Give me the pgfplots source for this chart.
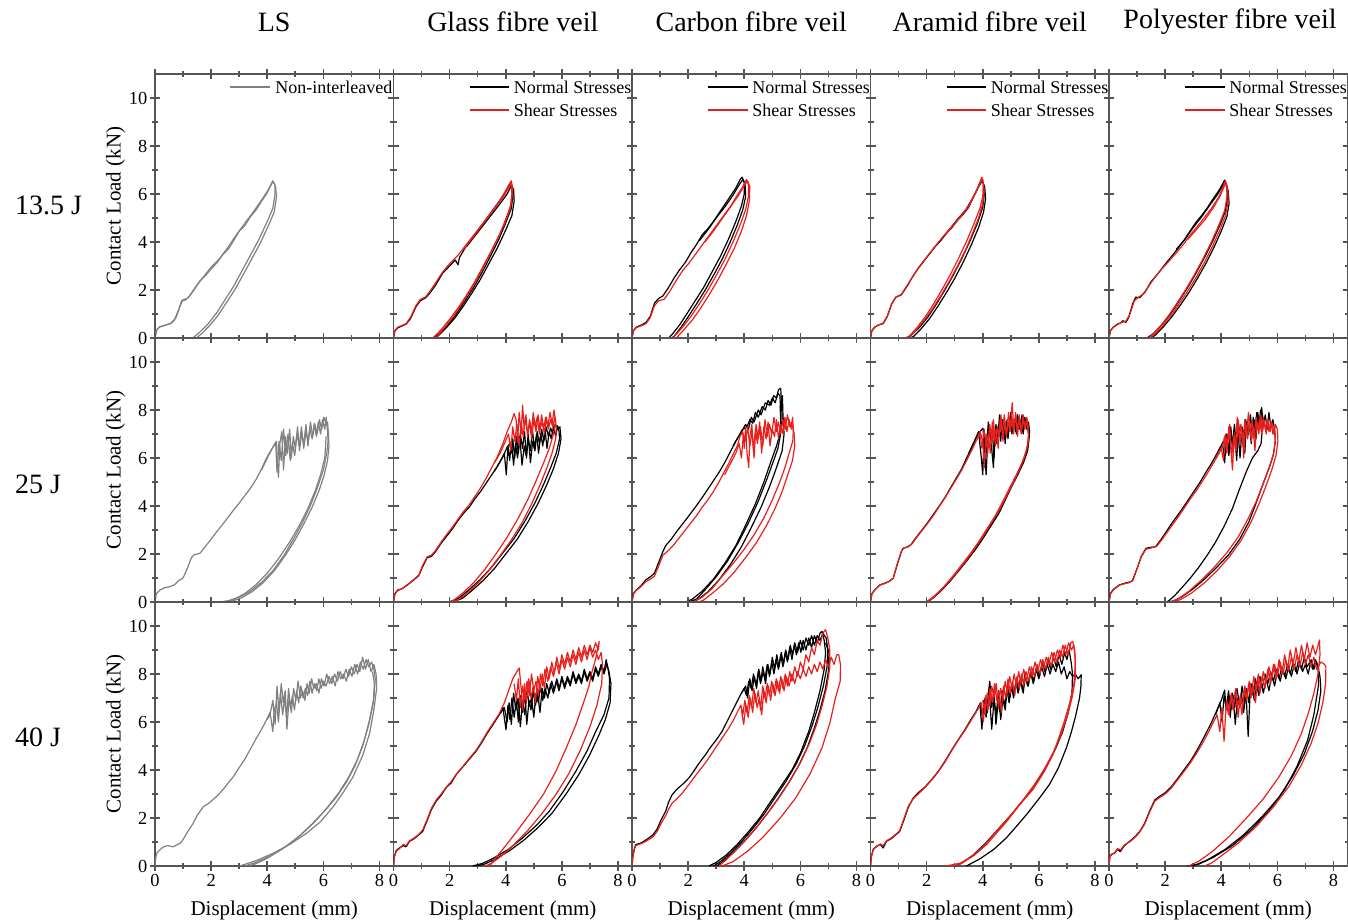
\documentclass[border=0pt]{standalone}
\usepackage{fontspec}
\setmainfont{Liberation Serif}
\usepackage{pgfplots}
\pgfplotsset{compat=1.18}
\definecolor{sred}{RGB}{232,32,28}
\definecolor{lsg}{RGB}{128,128,128}
\definecolor{axg}{RGB}{85,85,85}
\pgfplotsset{
  panel/.style={scale only axis, width=119.25pt, height=132pt, anchor=south west,
    xmin=0, xmax=8.5, ymin=0, ymax=11,
    xtick={0,2,4,6,8}, ytick={0,2,4,6,8,10},
    minor x tick num=1, minor y tick num=1,
    xticklabels={}, yticklabels={},
    tick align=center, major tick length=5pt, minor tick length=3pt,
    axis line style={axg, line width=0.8pt},
    every tick/.style={axg, line width=0.8pt},
    tick label style={font=\fontsize{9.2}{10}\selectfont, text=black},
    yticklabel style={xshift=2.2pt},
    xticklabel style={yshift=1.8pt},
    label style={font=\fontsize{10.5}{12}\selectfont},
  },
  lefty/.style={yticklabels={0,2,4,6,8,10}, ylabel={Contact Load (kN)},
    ylabel style={at={(axis description cs:-0.165,0.5)}, anchor=center}},
  botx/.style={xticklabels={0,2,4,6,8}, xlabel={Displacement (mm)},
    xlabel style={at={(axis description cs:0.5,-0.17)}, anchor=center}},
  N/.style={black, line width=0.6pt, forget plot, line join=round},
  S/.style={sred, line width=0.6pt, forget plot, line join=round},
  G/.style={lsg, line width=0.6pt, forget plot, line join=round},
}
\newcommand{\legtext}[2]{\node[anchor=west, inner sep=0pt, font=\fontsize{9}{10}\selectfont] at (rel axis cs:0.503,#1) {#2};}
\newcommand{\NSlegend}{%
\draw[black, line width=0.6pt] (rel axis cs:0.319,0.951) -- (rel axis cs:0.486,0.951);
\legtext{0.951}{Normal Stresses}
\draw[sred, line width=0.6pt] (rel axis cs:0.319,0.864) -- (rel axis cs:0.486,0.864);
\legtext{0.864}{Shear Stresses}}
\begin{document}
\begin{tikzpicture}
\path[use as bounding box] (0pt,0pt) rectangle (674pt,461.5pt);
% titles
\begin{scope}[every node/.style={font=\fontsize{14}{16}\selectfont}]
\node at (137.1pt,450.5pt) {LS};
\node at (256.4pt,450.5pt) {Glass fibre veil};
\node at (375.6pt,450.5pt) {Carbon fibre veil};
\node at (494.9pt,450.5pt) {Aramid fibre veil};
\node at (615pt,450.5pt) {Polyester fibre veil};
\node[anchor=west] at (4pt,359pt) {13.5 J};
\node[anchor=west] at (4pt,219.5pt) {25 J};
\node[anchor=west] at (4pt,93pt) {40 J};
\end{scope}

%================ ROW 1 (13.5 J) ================
\begin{axis}[panel, lefty, at={(77.5pt,292.5pt)}]
\addplot[G] coordinates {(0,0) (0.05,0.3) (0.15,0.45) (0.35,0.52) (0.55,0.6) (0.7,0.78) (0.85,1.2) (0.95,1.55) (1.08,1.58) (1.2,1.7) (1.4,2.05) (1.6,2.38) (1.8,2.6) (2.0,2.88) (2.2,3.12) (2.4,3.45) (2.6,3.68) (2.8,4.05) (3.0,4.45) (3.2,4.68) (3.4,5.05) (3.6,5.33) (3.8,5.7) (4.0,6.05) (4.1,6.3) (4.2,6.52) (4.27,6.4) (4.28,6.0) (4.2,5.4) (4.0,4.85) (3.7,4.1) (3.4,3.45) (3.1,2.8) (2.8,2.15) (2.5,1.6) (2.2,1.05) (1.9,0.6) (1.6,0.25) (1.35,0)};
\addplot[G] coordinates {(0,0) (0.06,0.33) (0.17,0.47) (0.4,0.55) (0.6,0.63) (0.75,0.85) (0.9,1.35) (1.0,1.6) (1.15,1.65) (1.3,1.85) (1.5,2.2) (1.75,2.58) (2.0,2.95) (2.3,3.3) (2.6,3.78) (2.9,4.3) (3.2,4.78) (3.5,5.25) (3.8,5.75) (4.05,6.2) (4.2,6.55) (4.3,6.3) (4.33,5.9) (4.25,5.25) (4.05,4.7) (3.75,3.95) (3.45,3.3) (3.15,2.65) (2.85,2.02) (2.55,1.48) (2.25,0.95) (1.95,0.52) (1.7,0.22) (1.48,0)};
\draw[lsg, line width=0.6pt] (rel axis cs:0.314,0.951) -- (rel axis cs:0.482,0.951);
\legtext{0.951}{Non-interleaved}
\end{axis}

\begin{axis}[panel, at={(196.75pt,292.5pt)}]
\addplot[N] coordinates {(0,0) (0.05,0.3) (0.15,0.42) (0.3,0.5) (0.45,0.58) (0.6,0.8) (0.8,1.3) (0.95,1.55) (1.15,1.68) (1.3,1.88) (1.5,2.2) (1.75,2.7) (2.0,3.0) (2.2,3.25) (2.3,3.05) (2.35,3.35) (2.55,3.75) (2.8,4.15) (3.05,4.55) (3.3,4.95) (3.55,5.35) (3.8,5.75) (4.0,6.1) (4.15,6.45) (4.22,6.3) (4.25,5.9) (4.2,5.4) (4.0,4.8) (3.75,4.1) (3.45,3.4) (3.15,2.72) (2.85,2.1) (2.55,1.55) (2.25,1.02) (1.95,0.55) (1.65,0.2) (1.42,0)};
\addplot[N] coordinates {(2.6,3.8) (2.9,4.25) (3.2,4.7) (3.5,5.15) (3.8,5.6) (4.05,6.0) (4.2,6.35) (4.28,6.2) (4.3,5.7) (4.22,5.1) (4.0,4.5) (3.7,3.75) (3.4,3.1) (3.1,2.45) (2.8,1.88) (2.5,1.35) (2.2,0.85) (1.9,0.45) (1.62,0.12) (1.5,0)};
\addplot[S] coordinates {(0,0) (0.05,0.32) (0.15,0.45) (0.3,0.52) (0.45,0.6) (0.6,0.85) (0.8,1.35) (0.95,1.6) (1.15,1.72) (1.3,1.95) (1.5,2.3) (1.75,2.75) (2.0,3.1) (2.3,3.45) (2.6,3.9) (2.9,4.35) (3.2,4.8) (3.5,5.25) (3.75,5.65) (3.95,6.05) (4.1,6.35) (4.2,6.55) (4.25,6.2) (4.2,5.6) (4.05,5.1) (3.8,4.35) (3.5,3.65) (3.2,3.0) (2.9,2.35) (2.6,1.78) (2.3,1.25) (2.0,0.78) (1.7,0.35) (1.45,0.05) (1.38,0)};
\addplot[S] coordinates {(2.5,3.7) (2.8,4.15) (3.1,4.62) (3.4,5.1) (3.7,5.55) (3.95,5.95) (4.12,6.3) (4.2,6.5) (4.22,6.0) (4.15,5.35) (3.95,4.75) (3.65,4.0) (3.35,3.3) (3.05,2.62) (2.75,2.0) (2.45,1.45) (2.15,0.92) (1.85,0.48) (1.58,0.1) (1.5,0)};
\NSlegend
\end{axis}

\begin{axis}[panel, at={(316pt,292.5pt)}]
\addplot[N] coordinates {(0,0) (0.05,0.3) (0.15,0.45) (0.35,0.55) (0.5,0.65) (0.65,0.9) (0.8,1.45) (0.95,1.65) (1.1,1.75) (1.3,2.1) (1.5,2.5) (1.7,2.85) (1.9,3.15) (2.1,3.55) (2.3,3.9) (2.5,4.3) (2.7,4.55) (2.9,4.85) (3.1,5.2) (3.3,5.55) (3.5,5.9) (3.7,6.25) (3.85,6.6) (3.92,6.7) (4.0,6.5) (4.0,6.0) (3.9,5.5) (3.7,4.85) (3.45,4.15) (3.15,3.4) (2.85,2.75) (2.55,2.1) (2.25,1.55) (1.95,1.0) (1.7,0.55) (1.45,0.18) (1.31,0)};
\addplot[N] coordinates {(2.4,4.05) (2.7,4.5) (3.0,5.0) (3.3,5.45) (3.6,5.95) (3.8,6.35) (3.95,6.6) (4.03,6.4) (4.05,5.9) (3.95,5.35) (3.75,4.7) (3.5,4.0) (3.2,3.25) (2.9,2.6) (2.6,1.98) (2.3,1.42) (2.0,0.88) (1.75,0.45) (1.52,0.1) (1.42,0)};
\addplot[S] coordinates {(0,0) (0.05,0.3) (0.15,0.43) (0.35,0.52) (0.5,0.6) (0.65,0.85) (0.8,1.35) (0.95,1.55) (1.15,1.62) (1.35,1.95) (1.55,2.35) (1.8,2.8) (2.05,3.15) (2.3,3.55) (2.55,3.95) (2.8,4.35) (3.05,4.75) (3.3,5.15) (3.55,5.55) (3.75,5.95) (3.95,6.3) (4.08,6.6) (4.15,6.4) (4.15,5.9) (4.05,5.35) (3.85,4.7) (3.6,4.0) (3.3,3.25) (3.0,2.6) (2.7,1.98) (2.4,1.42) (2.1,0.9) (1.8,0.45) (1.55,0.12) (1.45,0)};
\addplot[S] coordinates {(2.6,4.0) (2.9,4.45) (3.2,4.95) (3.5,5.45) (3.8,5.95) (4.0,6.35) (4.12,6.55) (4.2,6.3) (4.18,5.7) (4.08,5.1) (3.9,4.45) (3.65,3.75) (3.35,3.05) (3.05,2.4) (2.75,1.8) (2.45,1.25) (2.15,0.75) (1.85,0.35) (1.62,0.05) (1.58,0)};
\NSlegend
\end{axis}

\begin{axis}[panel, at={(435.25pt,292.5pt)}]
\addplot[N] coordinates {(0,0) (0.05,0.3) (0.15,0.45) (0.3,0.55) (0.45,0.6) (0.6,0.9) (0.75,1.4) (0.9,1.7) (1.1,1.8) (1.3,2.15) (1.5,2.55) (1.7,2.9) (1.9,3.2) (2.1,3.5) (2.3,3.8) (2.5,4.05) (2.7,4.35) (2.9,4.6) (3.1,4.9) (3.3,5.15) (3.5,5.45) (3.7,5.95) (3.85,6.3) (3.95,6.6) (4.02,6.45) (4.05,5.95) (4.0,5.45) (3.8,4.75) (3.55,4.05) (3.25,3.3) (2.95,2.62) (2.65,2.0) (2.35,1.42) (2.05,0.88) (1.75,0.45) (1.45,0.12) (1.3,0)};
\addplot[N] coordinates {(2.5,4.1) (2.8,4.5) (3.1,4.95) (3.4,5.35) (3.65,5.85) (3.85,6.3) (3.98,6.55) (4.07,6.3) (4.1,5.8) (4.03,5.25) (3.85,4.6) (3.6,3.9) (3.3,3.15) (3.0,2.48) (2.7,1.88) (2.4,1.32) (2.1,0.8) (1.8,0.38) (1.55,0.08) (1.42,0)};
\addplot[S] coordinates {(0,0) (0.05,0.32) (0.15,0.46) (0.3,0.55) (0.45,0.62) (0.6,0.92) (0.75,1.42) (0.9,1.7) (1.1,1.82) (1.3,2.18) (1.5,2.55) (1.7,2.92) (1.9,3.22) (2.1,3.52) (2.3,3.82) (2.5,4.1) (2.75,4.42) (3.0,4.78) (3.25,5.12) (3.5,5.5) (3.7,5.95) (3.85,6.35) (3.97,6.7) (4.02,6.4) (4.0,5.9) (3.9,5.4) (3.7,4.8) (3.45,4.1) (3.15,3.35) (2.85,2.65) (2.55,2.02) (2.25,1.42) (1.95,0.88) (1.65,0.42) (1.4,0.1) (1.25,0)};
\addplot[S] coordinates {(2.6,4.25) (2.9,4.65) (3.2,5.05) (3.5,5.5) (3.75,6.05) (3.9,6.45) (4.0,6.62) (4.05,6.2) (4.0,5.6) (3.85,5.0) (3.65,4.4) (3.4,3.7) (3.1,3.0) (2.8,2.35) (2.5,1.75) (2.2,1.2) (1.9,0.72) (1.6,0.3) (1.38,0.02) (1.36,0)};
\NSlegend
\end{axis}

\begin{axis}[panel, at={(554.5pt,292.5pt)}]
\addplot[N] coordinates {(0,0) (0.05,0.3) (0.15,0.45) (0.3,0.58) (0.4,0.62) (0.5,0.72) (0.6,0.65) (0.7,0.85) (0.85,1.45) (0.95,1.7) (1.1,1.68) (1.3,1.95) (1.5,2.35) (1.7,2.62) (1.9,2.92) (2.1,3.22) (2.3,3.5) (2.5,3.8) (2.7,4.12) (2.9,4.48) (3.1,4.82) (3.3,5.1) (3.5,5.42) (3.7,5.78) (3.9,6.12) (4.05,6.42) (4.12,6.58) (4.2,6.3) (4.22,5.8) (4.15,5.3) (3.95,4.7) (3.7,4.05) (3.4,3.35) (3.1,2.7) (2.8,2.1) (2.5,1.55) (2.2,1.02) (1.9,0.58) (1.6,0.2) (1.35,0)};
\addplot[N] coordinates {(2.4,3.7) (2.7,4.1) (3.0,4.6) (3.3,5.05) (3.6,5.55) (3.85,5.95) (4.05,6.35) (4.15,6.5) (4.25,6.1) (4.28,5.6) (4.2,5.05) (4.0,4.45) (3.75,3.8) (3.45,3.1) (3.15,2.48) (2.85,1.9) (2.55,1.38) (2.25,0.9) (1.95,0.48) (1.65,0.12) (1.5,0)};
\addplot[S] coordinates {(0,0) (0.05,0.3) (0.15,0.44) (0.3,0.56) (0.45,0.65) (0.6,0.7) (0.75,1.0) (0.9,1.55) (1.05,1.7) (1.25,1.85) (1.45,2.22) (1.65,2.55) (1.9,2.9) (2.15,3.22) (2.4,3.55) (2.65,3.9) (2.9,4.3) (3.15,4.65) (3.4,5.02) (3.65,5.4) (3.9,5.85) (4.05,6.25) (4.15,6.55) (4.2,6.35) (4.2,5.85) (4.12,5.3) (3.92,4.72) (3.65,4.0) (3.35,3.3) (3.05,2.65) (2.75,2.05) (2.45,1.5) (2.15,0.98) (1.85,0.52) (1.58,0.18) (1.4,0)};
\addplot[S] coordinates {(2.8,4.1) (3.1,4.5) (3.4,4.9) (3.7,5.4) (3.95,5.9) (4.1,6.3) (4.18,6.45) (4.24,6.15) (4.24,5.65) (4.15,5.1) (3.95,4.5) (3.7,3.85) (3.4,3.15) (3.1,2.52) (2.8,1.95) (2.5,1.42) (2.2,0.92) (1.9,0.48) (1.62,0.15) (1.45,0)};
\NSlegend
\end{axis}

%================ ROW 2 (25 J) ================
\begin{axis}[panel, lefty, at={(77.5pt,160.5pt)}]
\addplot[G] coordinates {(0,0) (0.05,0.35) (0.18,0.5) (0.35,0.6) (0.53,0.64) (0.7,0.72) (0.85,0.9) (1.0,1.0) (1.15,1.4) (1.3,1.85) (1.4,1.97) (1.6,2.03) (1.8,2.32) (2.0,2.62) (2.2,2.93) (2.4,3.22) (2.6,3.52) (2.8,3.83) (3.0,4.12) (3.2,4.43) (3.4,4.74) (3.6,5.1) (3.8,5.55) (3.97,5.99) (4.15,6.35) (4.33,6.7) (4.36,5.8) (4.4,5.2) (4.45,6.6) (4.52,7.1) (4.58,5.5) (4.65,6.9) (4.72,6.2) (4.8,7.2) (4.86,6.0) (4.93,6.9) (5.0,6.4) (5.08,7.3) (5.15,6.3) (5.22,7.0) (5.3,6.6) (5.38,7.4) (5.45,6.5) (5.52,7.2) (5.6,6.8) (5.68,7.45) (5.75,6.9) (5.82,7.5) (5.9,7.0) (5.97,7.6) (6.05,7.2) (6.1,7.7) (6.15,7.1) (6.17,6.7) (6.12,6.2) (6.0,5.5) (5.8,4.8) (5.55,4.05) (5.25,3.3) (4.95,2.65) (4.6,1.95) (4.2,1.3) (3.8,0.82) (3.4,0.45) (3.0,0.2) (2.6,0.05) (2.3,0)};
\addplot[G] coordinates {(3.8,5.5) (4.0,6.0) (4.2,6.45) (4.3,6.65) (4.35,5.4) (4.42,6.7) (4.5,5.9) (4.58,7.2) (4.66,6.1) (4.74,7.0) (4.82,5.9) (4.9,6.6) (4.98,6.1) (5.06,7.0) (5.14,6.5) (5.22,7.3) (5.3,6.4) (5.38,7.1) (5.46,6.7) (5.54,7.5) (5.62,6.9) (5.7,7.4) (5.78,7.0) (5.86,7.6) (5.94,7.2) (6.02,7.7) (6.1,7.4) (6.15,7.5) (6.18,7.0) (6.2,6.5) (6.15,5.9) (6.02,5.25) (5.85,4.65) (5.6,3.95) (5.3,3.25) (5.0,2.6) (4.65,1.95) (4.25,1.3) (3.85,0.8) (3.45,0.42) (3.05,0.15) (2.7,0.02) (2.55,0)};
\addplot[G] coordinates {(6.1,6.9) (6.05,6.0) (5.9,5.3) (5.7,4.6) (5.45,3.9) (5.15,3.2) (4.8,2.5) (4.4,1.8) (4.0,1.2) (3.6,0.72) (3.2,0.35) (2.8,0.1) (2.45,0)};
\end{axis}

\begin{axis}[panel, at={(196.75pt,160.5pt)}]
\addplot[N] coordinates {(0,0) (0.05,0.35) (0.15,0.5) (0.3,0.55) (0.5,0.72) (0.7,0.9) (0.9,1.1) (1.05,1.5) (1.2,1.85) (1.35,1.9) (1.5,2.1) (1.7,2.45) (1.9,2.75) (2.1,3.05) (2.3,3.4) (2.5,3.7) (2.7,3.95) (2.9,4.3) (3.1,4.6) (3.3,4.95) (3.5,5.3) (3.7,5.65) (3.9,6.05) (4.05,6.45) (4.15,6.6) (4.2,6.2) (4.25,6.8) (4.32,6.0) (4.38,6.9) (4.45,6.2) (4.52,7.0) (4.6,6.4) (4.67,7.1) (4.74,6.0) (4.8,6.8) (4.88,6.3) (4.95,7.2) (5.02,6.4) (5.1,7.0) (5.17,6.2) (5.25,7.0) (5.32,6.5) (5.4,7.2) (5.47,6.4) (5.55,7.1) (5.62,6.8) (5.7,7.3) (5.78,6.9) (5.85,7.35) (5.9,7.1) (5.92,6.8) (5.8,6.2) (5.6,5.6) (5.35,4.9) (5.05,4.15) (4.7,3.4) (4.3,2.65) (3.9,2.05) (3.5,1.45) (3.1,0.95) (2.7,0.52) (2.35,0.18) (2.0,0)};
\addplot[N] coordinates {(3.6,5.45) (3.8,5.85) (3.95,6.2) (4.02,5.3) (4.08,6.5) (4.14,5.9) (4.2,6.7) (4.28,5.7) (4.35,6.6) (4.42,6.0) (4.5,6.9) (4.58,5.7) (4.66,6.5) (4.73,6.1) (4.8,7.0) (4.88,5.8) (4.96,6.7) (5.04,6.3) (5.12,7.1) (5.2,6.6) (5.28,7.2) (5.36,6.7) (5.44,7.3) (5.52,6.9) (5.6,7.25) (5.68,7.0) (5.76,7.4) (5.85,7.2) (5.93,7.3) (5.97,6.8) (5.88,6.2) (5.7,5.55) (5.45,4.85) (5.15,4.1) (4.8,3.35) (4.4,2.6) (4.0,2.0) (3.6,1.4) (3.2,0.9) (2.8,0.48) (2.45,0.15) (2.1,0)};
\addplot[S] coordinates {(0,0) (0.05,0.33) (0.15,0.48) (0.3,0.55) (0.5,0.7) (0.7,0.92) (0.9,1.12) (1.05,1.55) (1.2,1.88) (1.35,1.95) (1.5,2.15) (1.7,2.5) (1.9,2.82) (2.1,3.12) (2.3,3.45) (2.5,3.78) (2.7,4.05) (2.9,4.4) (3.1,4.75) (3.3,5.15) (3.5,5.6) (3.7,6.05) (3.9,6.6) (4.05,7.1) (4.2,7.5) (4.3,7.85) (4.37,7.6) (4.42,6.7) (4.48,7.9) (4.55,7.0) (4.6,8.2) (4.66,7.2) (4.72,7.8) (4.78,6.9) (4.85,7.6) (4.92,7.1) (4.98,7.9) (5.05,7.3) (5.12,7.7) (5.2,7.0) (5.28,7.8) (5.35,7.2) (5.42,7.7) (5.5,7.3) (5.58,7.9) (5.65,7.4) (5.72,8.0) (5.78,7.5) (5.7,7.0) (5.55,6.4) (5.35,5.8) (5.1,5.1) (4.8,4.3) (4.45,3.5) (4.05,2.7) (3.65,2.0) (3.25,1.35) (2.85,0.8) (2.45,0.35) (2.15,0.08) (1.97,0)};
\addplot[S] coordinates {(3.6,5.8) (3.8,6.2) (3.95,6.6) (4.1,7.0) (4.18,6.3) (4.25,7.3) (4.32,6.7) (4.4,7.4) (4.48,6.5) (4.55,7.5) (4.62,6.9) (4.7,7.7) (4.78,7.0) (4.85,7.5) (4.92,6.8) (5.0,7.6) (5.08,7.1) (5.15,7.8) (5.22,7.2) (5.3,7.5) (5.38,7.0) (5.45,7.7) (5.52,7.2) (5.6,7.6) (5.68,7.3) (5.75,7.7) (5.8,7.3) (5.78,6.8) (5.65,6.2) (5.47,5.6) (5.23,4.9) (4.93,4.1) (4.58,3.3) (4.18,2.55) (3.78,1.9) (3.38,1.28) (2.98,0.75) (2.58,0.32) (2.25,0.06) (2.05,0)};
\end{axis}

\begin{axis}[panel, at={(316pt,160.5pt)}]
\addplot[N] coordinates {(0,0) (0.05,0.35) (0.15,0.5) (0.3,0.65) (0.49,0.92) (0.65,1.05) (0.8,1.2) (0.95,1.65) (1.1,2.1) (1.2,2.35) (1.4,2.62) (1.6,2.95) (1.8,3.25) (2.0,3.55) (2.27,3.97) (2.5,4.35) (2.7,4.7) (2.9,5.05) (3.1,5.4) (3.3,5.8) (3.5,6.25) (3.7,6.7) (3.93,7.17) (4.1,7.3) (4.2,7.6) (4.3,7.45) (4.4,7.9) (4.5,7.7) (4.64,8.14) (4.75,8.0) (4.85,8.4) (4.95,8.2) (5.05,8.6) (5.15,8.5) (5.22,8.85) (5.3,8.9) (5.33,8.3) (5.35,7.6) (5.3,7.1) (5.15,6.5) (4.95,5.85) (4.7,5.0) (4.4,4.1) (4.05,3.2) (3.7,2.35) (3.3,1.6) (2.9,0.95) (2.5,0.45) (2.15,0.12) (1.91,0)};
\addplot[N] coordinates {(3.6,6.5) (3.85,7.0) (4.05,7.4) (4.15,7.2) (4.25,7.7) (4.35,7.5) (4.5,8.0) (4.6,7.8) (4.75,8.3) (4.9,8.2) (5.0,8.5) (5.1,8.3) (5.2,8.7) (5.27,8.6) (5.3,8.0) (5.36,8.6) (5.38,7.8) (5.42,7.0) (5.35,6.3) (5.15,5.6) (4.9,4.8) (4.6,3.95) (4.25,3.1) (3.9,2.3) (3.5,1.55) (3.1,0.92) (2.7,0.42) (2.35,0.1) (2.12,0)};
\addplot[N] coordinates {(5.28,8.2) (5.3,7.4) (5.28,6.9) (5.2,6.4) (5.05,5.9) (4.8,5.1) (4.5,4.2) (4.15,3.3) (3.8,2.5) (3.4,1.7) (3.0,1.05) (2.6,0.5) (2.3,0.12) (2.02,0)};
\addplot[S] coordinates {(0,0) (0.05,0.33) (0.15,0.48) (0.3,0.62) (0.5,0.85) (0.65,0.95) (0.8,1.08) (0.95,1.5) (1.1,1.95) (1.32,2.17) (1.5,2.4) (1.7,2.7) (1.9,3.0) (2.1,3.3) (2.3,3.6) (2.5,3.95) (2.7,4.25) (2.9,4.6) (3.1,5.0) (3.3,5.45) (3.45,5.78) (3.6,6.15) (3.75,6.5) (3.85,6.9) (3.95,7.1) (4.0,6.4) (4.05,7.3) (4.1,6.2) (4.16,5.6) (4.2,6.9) (4.27,7.4) (4.33,6.3) (4.4,7.2) (4.47,6.6) (4.55,7.5) (4.62,6.2) (4.7,7.3) (4.78,6.8) (4.85,7.5) (4.92,6.5) (5.0,7.2) (5.08,6.9) (5.15,7.6) (5.22,6.8) (5.3,7.4) (5.38,7.0) (5.45,7.7) (5.52,7.1) (5.6,7.6) (5.68,7.2) (5.72,7.7) (5.75,7.2) (5.73,6.7) (5.6,6.2) (5.45,5.6) (5.25,4.95) (5.0,4.25) (4.7,3.5) (4.35,2.8) (4.0,2.2) (3.6,1.6) (3.2,1.05) (2.85,0.55) (2.5,0.2) (2.2,0.02) (2.15,0)};
\addplot[S] coordinates {(3.3,5.3) (3.5,5.75) (3.7,6.2) (3.82,6.6) (3.9,6.0) (3.97,7.0) (4.05,6.7) (4.12,7.3) (4.2,6.5) (4.28,7.1) (4.35,6.0) (4.42,7.4) (4.5,6.8) (4.58,7.3) (4.66,6.5) (4.74,7.6) (4.82,6.9) (4.9,7.4) (4.98,7.0) (5.06,7.7) (5.14,7.1) (5.22,7.5) (5.3,7.0) (5.38,7.6) (5.46,7.2) (5.54,7.8) (5.62,7.3) (5.7,7.5) (5.78,7.0) (5.8,6.5) (5.72,5.9) (5.55,5.3) (5.35,4.6) (5.1,3.9) (4.8,3.2) (4.45,2.5) (4.05,1.85) (3.65,1.25) (3.25,0.75) (2.85,0.35) (2.55,0.08) (2.38,0)};
\end{axis}

\begin{axis}[panel, at={(435.25pt,160.5pt)}]
\addplot[N] coordinates {(0,0) (0.05,0.35) (0.15,0.5) (0.33,0.71) (0.5,0.78) (0.65,0.85) (0.81,0.99) (0.95,1.55) (1.1,2.1) (1.16,2.24) (1.3,2.28) (1.45,2.4) (1.6,2.65) (1.8,2.95) (2.0,3.25) (2.23,3.63) (2.45,4.0) (2.65,4.35) (2.85,4.75) (3.05,5.15) (3.25,5.55) (3.42,5.99) (3.6,6.4) (3.75,6.8) (3.9,7.1) (4.01,7.24) (4.07,6.3) (4.12,5.3) (4.18,6.8) (4.25,7.3) (4.31,6.5) (4.38,5.6) (4.44,7.1) (4.5,6.6) (4.57,7.4) (4.64,6.7) (4.7,7.6) (4.77,6.9) (4.84,7.5) (4.9,6.8) (4.97,7.7) (5.04,7.0) (5.1,7.6) (5.17,7.1) (5.24,7.8) (5.3,7.2) (5.37,7.6) (5.44,7.0) (5.5,7.7) (5.57,7.2) (5.63,7.5) (5.67,7.1) (5.62,6.5) (5.48,5.95) (5.3,5.5) (5.1,5.05) (4.85,4.4) (4.6,3.76) (4.3,3.2) (4.0,2.65) (3.77,2.24) (3.45,1.75) (3.15,1.32) (2.82,0.85) (2.5,0.45) (2.2,0.15) (1.99,0)};
\addplot[N] coordinates {(3.5,6.2) (3.7,6.7) (3.85,7.1) (3.95,6.0) (4.0,5.3) (4.05,6.9) (4.12,6.2) (4.2,7.5) (4.27,6.8) (4.34,7.2) (4.4,6.0) (4.47,7.4) (4.54,6.9) (4.6,7.8) (4.67,7.0) (4.74,7.4) (4.8,6.6) (4.87,7.6) (4.94,7.1) (5.0,7.9) (5.07,7.2) (5.14,7.6) (5.2,7.0) (5.27,7.7) (5.34,7.3) (5.4,7.8) (5.47,7.2) (5.54,7.6) (5.6,7.3) (5.65,6.9) (5.6,6.3) (5.45,5.8) (5.25,5.3) (5.05,4.85) (4.8,4.25) (4.55,3.65) (4.25,3.1) (3.95,2.55) (3.7,2.15) (3.4,1.68) (3.1,1.25) (2.78,0.8) (2.45,0.4) (2.18,0.12) (2.02,0)};
\addplot[S] coordinates {(0,0) (0.05,0.33) (0.15,0.5) (0.33,0.7) (0.5,0.77) (0.65,0.84) (0.81,1.0) (0.95,1.58) (1.1,2.12) (1.2,2.26) (1.35,2.3) (1.5,2.45) (1.65,2.7) (1.85,3.0) (2.05,3.3) (2.25,3.62) (2.45,3.98) (2.65,4.33) (2.85,4.72) (3.05,5.1) (3.25,5.5) (3.45,5.95) (3.62,6.35) (3.78,6.75) (3.92,7.05) (4.0,6.7) (4.06,5.6) (4.12,7.0) (4.18,6.2) (4.25,7.4) (4.32,6.6) (4.38,7.6) (4.45,6.5) (4.52,7.3) (4.58,6.9) (4.65,7.8) (4.72,6.7) (4.78,7.5) (4.85,7.0) (4.92,7.9) (4.98,7.2) (5.05,8.3) (5.1,7.3) (5.17,7.7) (5.24,6.9) (5.3,7.8) (5.37,7.1) (5.44,7.6) (5.5,7.2) (5.57,7.7) (5.62,7.3) (5.63,6.8) (5.55,6.3) (5.4,5.8) (5.2,5.3) (4.98,4.8) (4.72,4.2) (4.45,3.6) (4.15,3.05) (3.85,2.5) (3.55,2.0) (3.25,1.55) (2.95,1.1) (2.62,0.65) (2.3,0.28) (2.05,0.05) (1.98,0)};
\addplot[S] coordinates {(3.8,6.8) (3.9,7.1) (3.97,6.4) (4.05,7.2) (4.12,6.5) (4.2,7.0) (4.27,6.2) (4.34,7.5) (4.4,6.8) (4.48,7.2) (4.55,6.4) (4.62,7.6) (4.7,7.1) (4.77,7.8) (4.84,6.9) (4.9,7.5) (4.97,7.1) (5.04,7.7) (5.1,7.0) (5.17,7.9) (5.24,7.2) (5.3,7.6) (5.37,7.0) (5.44,7.8) (5.5,7.3) (5.57,7.5) (5.63,7.0) (5.6,6.5) (5.48,6.0) (5.3,5.5) (5.1,5.0) (4.86,4.45) (4.6,3.85) (4.3,3.28) (4.0,2.72) (3.7,2.2) (3.4,1.72) (3.1,1.28) (2.78,0.82) (2.45,0.42) (2.15,0.1) (1.99,0)};
\end{axis}

\begin{axis}[panel, at={(554.5pt,160.5pt)}]
\addplot[N] coordinates {(0,0) (0.05,0.35) (0.15,0.52) (0.37,0.71) (0.55,0.78) (0.7,0.82) (0.83,0.88) (1.0,1.4) (1.15,1.9) (1.32,2.24) (1.5,2.28) (1.66,2.3) (1.85,2.6) (2.05,2.95) (2.25,3.3) (2.45,3.62) (2.62,3.9) (2.85,4.3) (3.05,4.65) (3.25,5.0) (3.45,5.4) (3.69,5.85) (3.9,6.3) (4.1,6.75) (4.2,6.9) (4.27,6.2) (4.33,7.2) (4.4,6.6) (4.47,7.4) (4.54,6.5) (4.6,7.1) (4.67,6.0) (4.74,7.3) (4.8,6.8) (4.87,7.6) (4.94,6.9) (5.0,7.4) (5.07,6.6) (5.14,7.7) (5.2,7.2) (5.27,7.9) (5.34,7.3) (5.4,8.0) (5.45,7.0) (5.42,6.6) (5.3,6.3) (5.11,6.0) (4.9,5.45) (4.65,4.7) (4.4,3.9) (4.1,3.15) (3.8,2.5) (3.5,1.95) (3.2,1.45) (2.9,1.0) (2.6,0.6) (2.35,0.28) (2.15,0.07) (2.05,0)};
\addplot[N] coordinates {(3.9,6.3) (4.05,6.6) (4.12,5.8) (4.2,7.0) (4.27,6.1) (4.34,7.3) (4.4,6.4) (4.48,7.0) (4.55,5.9) (4.62,7.4) (4.7,6.7) (4.77,7.2) (4.84,6.2) (4.9,7.5) (4.97,7.0) (5.04,7.8) (5.1,7.1) (5.17,7.6) (5.24,6.8) (5.3,7.9) (5.37,7.3) (5.44,8.1) (5.5,7.4) (5.57,7.8) (5.64,7.2) (5.7,7.9) (5.77,7.3) (5.84,7.6) (5.9,7.2) (5.93,6.7) (5.85,6.1) (5.7,5.57) (5.5,4.95) (5.25,4.15) (4.99,3.35) (4.65,2.6) (4.25,1.95) (3.8,1.4) (3.4,0.95) (3.0,0.55) (2.6,0.22) (2.3,0.04) (2.15,0)};
\addplot[S] coordinates {(0,0) (0.05,0.33) (0.15,0.5) (0.37,0.7) (0.55,0.76) (0.7,0.8) (0.85,0.9) (1.0,1.38) (1.15,1.88) (1.32,2.2) (1.5,2.25) (1.7,2.32) (1.9,2.62) (2.1,2.95) (2.3,3.28) (2.5,3.6) (2.7,3.95) (2.9,4.3) (3.1,4.62) (3.3,4.98) (3.5,5.35) (3.7,5.75) (3.9,6.15) (4.05,6.5) (4.12,6.9) (4.2,6.2) (4.27,7.3) (4.34,6.4) (4.4,5.5) (4.47,7.0) (4.54,6.3) (4.6,7.6) (4.67,6.6) (4.74,7.2) (4.8,6.0) (4.87,7.4) (4.94,6.8) (5.0,7.6) (5.07,6.7) (5.14,7.3) (5.2,6.3) (5.27,7.5) (5.34,7.0) (5.4,7.8) (5.47,7.1) (5.54,7.5) (5.6,7.0) (5.67,7.6) (5.74,7.1) (5.8,7.5) (5.87,7.0) (5.93,7.4) (6.0,7.2) (6.02,6.7) (5.95,6.1) (5.8,5.5) (5.6,4.85) (5.35,4.1) (5.05,3.3) (4.7,2.55) (4.3,1.9) (3.85,1.3) (3.4,0.8) (2.95,0.38) (2.55,0.1) (2.25,0)};
\addplot[S] coordinates {(3.8,6.0) (4.0,6.4) (4.08,5.9) (4.15,7.0) (4.22,6.5) (4.3,7.4) (4.37,6.0) (4.44,6.9) (4.5,6.4) (4.57,7.7) (4.64,6.9) (4.7,7.4) (4.77,6.5) (4.84,7.6) (4.9,7.0) (4.97,7.9) (5.04,7.1) (5.1,7.5) (5.17,6.8) (5.24,7.7) (5.3,7.2) (5.37,7.6) (5.44,7.0) (5.5,7.7) (5.57,7.2) (5.64,7.6) (5.7,7.1) (5.77,7.5) (5.84,7.0) (5.9,7.3) (5.93,6.8) (5.87,6.2) (5.72,5.62) (5.5,4.95) (5.25,4.2) (4.95,3.45) (4.6,2.7) (4.2,2.05) (3.75,1.45) (3.3,0.92) (2.85,0.45) (2.45,0.12) (2.15,0)};
\end{axis}

%================ ROW 3 (40 J) ================
\begin{axis}[panel, lefty, botx, at={(77.5pt,28.5pt)}]
\addplot[G] coordinates {(0,0) (0.03,0.35) (0.06,0.53) (0.15,0.65) (0.3,0.8) (0.45,0.85) (0.65,0.8) (0.8,0.9) (0.89,0.94) (1.0,1.1) (1.15,1.4) (1.36,1.78) (1.5,2.1) (1.72,2.47) (1.9,2.6) (2.05,2.75) (2.19,2.89) (2.4,3.15) (2.6,3.45) (2.79,3.72) (3.0,4.1) (3.2,4.45) (3.38,4.83) (3.6,5.3) (3.8,5.7) (3.97,6.08) (4.1,6.4) (4.2,5.6) (4.25,6.5) (4.33,6.78) (4.4,6.0) (4.47,7.2) (4.55,6.3) (4.62,7.0) (4.69,6.2) (4.76,7.4) (4.83,6.6) (4.9,7.1) (4.97,6.5) (5.05,7.3) (5.12,6.8) (5.2,7.5) (5.28,7.0) (5.36,7.4) (5.44,7.1) (5.52,7.7) (5.6,7.2) (5.68,7.6) (5.76,7.3) (5.84,7.8) (5.92,7.4) (6.0,7.7) (6.1,7.5) (6.2,7.9) (6.3,7.6) (6.4,8.0) (6.5,7.7) (6.6,8.1) (6.7,7.8) (6.8,8.2) (6.9,7.9) (7.0,8.3) (7.1,8.0) (7.2,8.4) (7.3,8.1) (7.4,8.7) (7.5,8.2) (7.6,8.6) (7.7,8.1) (7.8,8.4) (7.88,8.0) (7.9,7.4) (7.8,6.5) (7.65,5.53) (7.4,4.6) (7.06,3.72) (6.7,3.05) (6.35,2.47) (5.9,1.85) (5.4,1.36) (4.8,0.9) (4.21,0.53) (3.6,0.22) (3.02,0)};
\addplot[G] coordinates {(4.0,6.1) (4.1,6.3) (4.2,6.9) (4.28,5.9) (4.35,7.5) (4.42,6.4) (4.5,7.6) (4.57,6.8) (4.64,7.3) (4.7,5.7) (4.78,7.0) (4.86,6.4) (4.94,7.4) (5.02,6.9) (5.1,7.7) (5.18,7.0) (5.26,7.3) (5.34,6.9) (5.42,7.6) (5.5,7.2) (5.58,7.8) (5.66,7.4) (5.75,7.6) (5.84,7.2) (5.93,7.8) (6.02,7.5) (6.12,8.0) (6.22,7.6) (6.32,7.9) (6.42,7.5) (6.52,8.1) (6.62,7.8) (6.72,8.0) (6.82,7.7) (6.92,8.2) (7.02,7.9) (7.12,8.4) (7.22,8.0) (7.32,8.5) (7.42,8.2) (7.52,8.6) (7.62,8.3) (7.72,8.5) (7.8,8.2) (7.85,7.8) (7.8,7.0) (7.65,6.1) (7.45,5.2) (7.2,4.4) (6.9,3.7) (6.55,3.05) (6.15,2.45) (5.7,1.85) (5.2,1.3) (4.65,0.8) (4.1,0.42) (3.6,0.15) (3.2,0)};
\addplot[G] coordinates {(7.75,8.1) (7.82,7.6) (7.78,6.8) (7.62,5.9) (7.4,5.0) (7.12,4.15) (6.8,3.45) (6.45,2.85) (6.05,2.3) (5.6,1.75) (5.1,1.2) (4.55,0.72) (4.0,0.32) (3.6,0.1) (3.35,0)};
\end{axis}

\begin{axis}[panel, botx, at={(196.75pt,28.5pt)}]
\addplot[N] coordinates {(0,0) (0.03,0.4) (0.1,0.65) (0.21,0.75) (0.35,0.85) (0.45,0.8) (0.57,1.03) (0.75,1.15) (0.9,1.3) (1.04,1.44) (1.2,1.9) (1.35,2.35) (1.52,2.7) (1.7,2.95) (1.9,3.3) (2.05,3.45) (2.23,3.8) (2.45,4.1) (2.7,4.45) (2.94,4.78) (3.15,5.15) (3.35,5.55) (3.55,5.9) (3.77,6.3) (3.9,6.6) (3.97,6.0) (4.01,5.68) (4.08,6.7) (4.15,6.1) (4.22,7.0) (4.3,6.2) (4.38,6.9) (4.45,6.0) (4.52,7.1) (4.6,6.4) (4.68,7.2) (4.75,5.9) (4.83,6.9) (4.9,6.5) (4.98,7.3) (5.06,6.7) (5.14,7.2) (5.22,6.4) (5.3,7.4) (5.38,7.0) (5.46,7.6) (5.55,7.2) (5.64,7.7) (5.73,7.3) (5.82,7.8) (5.91,7.4) (6.0,7.9) (6.1,7.5) (6.2,7.9) (6.3,7.6) (6.4,8.1) (6.5,7.7) (6.6,8.0) (6.7,7.7) (6.8,8.2) (6.9,7.8) (7.0,8.1) (7.1,7.8) (7.2,8.3) (7.3,8.0) (7.4,8.4) (7.5,8.1) (7.58,8.6) (7.65,8.2) (7.7,7.8) (7.68,7.0) (7.5,6.3) (7.21,5.61) (6.9,4.8) (6.5,3.95) (6.05,3.1) (5.55,2.28) (5.1,1.7) (4.6,1.17) (4.1,0.7) (3.6,0.35) (3.2,0.12) (2.82,0)};
\addplot[N] coordinates {(3.8,6.35) (3.95,6.6) (4.05,6.0) (4.12,6.8) (4.2,5.9) (4.28,7.2) (4.36,6.5) (4.44,7.0) (4.52,5.8) (4.6,6.9) (4.68,6.3) (4.76,7.3) (4.84,6.7) (4.92,7.0) (5.0,6.2) (5.08,7.2) (5.16,6.8) (5.24,7.5) (5.32,6.9) (5.4,7.4) (5.5,7.0) (5.6,7.6) (5.7,7.2) (5.8,7.7) (5.9,7.3) (6.0,7.8) (6.1,7.4) (6.2,7.8) (6.3,7.5) (6.4,8.0) (6.5,7.6) (6.6,7.9) (6.7,7.6) (6.8,8.1) (6.9,7.7) (7.0,8.0) (7.1,7.7) (7.2,8.2) (7.3,7.9) (7.4,8.3) (7.5,8.0) (7.6,8.4) (7.68,8.1) (7.75,7.6) (7.72,6.8) (7.55,6.1) (7.3,5.4) (6.98,4.6) (6.6,3.8) (6.15,3.0) (5.65,2.2) (5.15,1.6) (4.65,1.08) (4.15,0.65) (3.65,0.3) (3.25,0.08) (2.95,0)};
\addplot[S] coordinates {(0,0) (0.03,0.38) (0.1,0.62) (0.21,0.72) (0.35,0.9) (0.45,0.85) (0.57,1.05) (0.75,1.18) (0.9,1.32) (1.04,1.5) (1.2,1.95) (1.35,2.4) (1.52,2.75) (1.7,3.0) (1.9,3.32) (2.05,3.5) (2.23,3.82) (2.45,4.12) (2.7,4.48) (2.94,4.82) (3.15,5.2) (3.35,5.6) (3.55,5.95) (3.77,6.35) (3.95,6.8) (4.1,7.3) (4.25,7.8) (4.4,8.1) (4.48,8.25) (4.55,7.4) (4.6,6.5) (4.67,7.6) (4.74,6.8) (4.82,7.8) (4.9,7.0) (4.98,7.5) (5.06,6.8) (5.14,7.9) (5.22,7.3) (5.3,8.0) (5.38,7.4) (5.46,8.3) (5.55,7.8) (5.64,8.5) (5.73,8.0) (5.82,8.7) (5.91,8.2) (6.0,8.8) (6.1,8.4) (6.2,8.9) (6.3,8.5) (6.4,9.0) (6.5,8.6) (6.6,9.1) (6.7,8.7) (6.8,9.2) (6.9,8.8) (7.0,9.2) (7.1,8.9) (7.2,9.3) (7.3,9.0) (7.33,9.36) (7.2,8.6) (7.05,8.0) (6.98,7.55) (6.8,6.9) (6.5,5.89) (6.15,4.9) (5.79,3.95) (5.35,3.0) (4.84,2.14) (4.4,1.45) (4.0,0.85) (3.7,0.42) (3.42,0)};
\addplot[S] coordinates {(4.3,7.6) (4.38,6.9) (4.45,7.8) (4.52,6.6) (4.6,7.5) (4.68,6.9) (4.76,7.7) (4.84,7.1) (4.92,8.0) (5.0,7.3) (5.08,7.7) (5.16,7.1) (5.24,8.0) (5.32,7.5) (5.4,8.2) (5.5,7.7) (5.6,8.3) (5.7,7.9) (5.8,8.5) (5.9,8.0) (6.0,8.6) (6.1,8.2) (6.2,8.7) (6.3,8.3) (6.4,8.8) (6.5,8.4) (6.6,8.9) (6.7,8.5) (6.8,9.0) (6.9,8.6) (7.0,9.1) (7.1,8.7) (7.2,9.0) (7.3,8.6) (7.4,8.9) (7.45,8.4) (7.42,7.6) (7.25,6.7) (7.0,5.8) (6.65,4.8) (6.25,3.85) (5.8,3.0) (5.3,2.2) (4.8,1.5) (4.3,0.9) (3.85,0.42) (3.5,0.12) (3.28,0)};
\end{axis}

\begin{axis}[panel, botx, at={(316pt,28.5pt)}]
\addplot[N] coordinates {(0,0) (0.03,0.4) (0.08,0.7) (0.13,0.89) (0.3,0.95) (0.45,1.05) (0.6,1.17) (0.75,1.3) (0.9,1.55) (1.05,1.95) (1.2,2.28) (1.3,2.65) (1.43,2.97) (1.6,3.2) (1.8,3.4) (2.03,3.67) (2.2,3.95) (2.4,4.3) (2.62,4.64) (2.8,4.95) (3.0,5.25) (3.21,5.61) (3.4,6.05) (3.55,6.4) (3.69,6.72) (3.85,7.1) (4.0,7.4) (4.08,7.1) (4.16,7.7) (4.25,7.4) (4.33,8.0) (4.42,7.5) (4.5,8.1) (4.58,7.6) (4.66,8.3) (4.74,7.8) (4.82,8.4) (4.9,7.9) (4.98,8.5) (5.06,8.0) (5.14,8.6) (5.22,8.2) (5.3,8.8) (5.38,8.3) (5.46,8.9) (5.54,8.5) (5.62,9.1) (5.7,8.6) (5.78,9.2) (5.86,8.8) (5.94,9.3) (6.02,8.9) (6.1,9.4) (6.2,9.0) (6.3,9.5) (6.4,9.1) (6.5,9.6) (6.6,9.3) (6.7,9.7) (6.77,9.78) (6.85,9.4) (6.9,8.9) (6.85,8.2) (6.7,7.3) (6.5,6.4) (6.3,5.61) (6.0,4.7) (5.7,4.0) (5.35,3.39) (4.95,2.7) (4.55,2.0) (4.16,1.44) (3.75,0.9) (3.35,0.45) (3.0,0.15) (2.74,0)};
\addplot[N] coordinates {(3.9,7.2) (4.05,7.5) (4.12,7.0) (4.2,7.8) (4.28,7.3) (4.36,7.9) (4.44,7.4) (4.52,8.2) (4.6,7.7) (4.68,8.1) (4.76,7.6) (4.84,8.4) (4.92,8.0) (5.0,8.7) (5.08,8.2) (5.16,8.8) (5.24,8.3) (5.32,8.9) (5.4,8.4) (5.48,9.0) (5.56,8.6) (5.64,9.2) (5.72,8.8) (5.8,9.3) (5.9,8.9) (6.0,9.4) (6.1,9.0) (6.2,9.5) (6.3,9.2) (6.4,9.6) (6.5,9.2) (6.6,9.6) (6.7,9.4) (6.8,9.7) (6.92,9.5) (6.98,9.0) (6.95,8.3) (6.82,7.5) (6.62,6.6) (6.42,5.85) (6.15,5.0) (5.85,4.25) (5.5,3.55) (5.1,2.85) (4.7,2.15) (4.3,1.55) (3.9,1.0) (3.5,0.52) (3.15,0.18) (2.9,0)};
\addplot[N] coordinates {(6.9,9.3) (7.02,8.9) (7.0,8.1) (6.88,7.3) (6.7,6.5) (6.5,5.75) (6.25,4.95) (5.95,4.2) (5.6,3.5) (5.2,2.8) (4.8,2.15) (4.4,1.55) (4.0,1.02) (3.6,0.55) (3.25,0.2) (3.02,0)};
\addplot[S] coordinates {(0,0) (0.03,0.38) (0.08,0.68) (0.13,0.85) (0.3,0.92) (0.45,1.0) (0.6,1.1) (0.75,1.22) (0.9,1.45) (1.05,1.8) (1.2,2.1) (1.32,2.4) (1.45,2.65) (1.6,2.8) (1.8,3.05) (2.03,3.4) (2.25,3.75) (2.45,4.05) (2.65,4.35) (2.85,4.7) (3.05,5.05) (3.25,5.4) (3.45,5.75) (3.6,6.05) (3.75,6.4) (3.88,6.7) (3.95,6.3) (4.02,6.9) (4.1,6.4) (4.18,7.1) (4.26,6.6) (4.34,7.4) (4.42,6.8) (4.5,7.3) (4.58,6.5) (4.66,7.5) (4.74,7.0) (4.82,7.6) (4.9,7.1) (4.98,7.7) (5.06,7.2) (5.14,7.8) (5.22,7.3) (5.3,7.9) (5.38,7.4) (5.46,8.0) (5.54,7.5) (5.62,8.1) (5.7,7.7) (5.8,8.3) (5.9,7.9) (6.0,8.5) (6.1,8.2) (6.2,8.8) (6.3,8.5) (6.4,9.1) (6.5,8.8) (6.6,9.4) (6.7,9.2) (6.8,9.7) (6.9,9.85) (6.98,9.5) (7.05,9.0) (7.05,8.3) (6.95,7.5) (6.78,6.7) (6.58,5.9) (6.32,5.1) (6.02,4.35) (5.68,3.65) (5.3,2.95) (4.9,2.3) (4.5,1.7) (4.1,1.15) (3.7,0.65) (3.35,0.25) (3.1,0)};
\addplot[S] coordinates {(3.9,6.5) (3.98,5.9) (4.06,6.7) (4.14,6.2) (4.22,7.0) (4.3,6.4) (4.38,7.2) (4.46,6.6) (4.54,7.0) (4.62,6.3) (4.7,7.3) (4.78,6.8) (4.86,7.5) (4.94,6.9) (5.02,7.6) (5.1,7.1) (5.18,7.7) (5.26,7.2) (5.34,7.8) (5.42,7.3) (5.5,7.9) (5.6,7.5) (5.7,8.0) (5.8,7.6) (5.9,8.1) (6.0,7.8) (6.1,8.2) (6.2,7.9) (6.3,8.3) (6.4,8.0) (6.5,8.4) (6.6,8.1) (6.7,8.5) (6.8,8.2) (6.9,8.6) (7.0,8.3) (7.1,8.7) (7.2,8.4) (7.3,8.8) (7.37,8.8) (7.43,8.39) (7.42,7.7) (7.25,7.0) (7.05,5.95) (6.77,4.92) (6.35,3.85) (5.83,2.83) (5.25,1.95) (4.64,1.17) (4.1,0.6) (3.6,0.18) (3.21,0)};
\end{axis}

\begin{axis}[panel, botx, at={(435.25pt,28.5pt)}]
\addplot[N] coordinates {(0,0) (0.03,0.4) (0.1,0.7) (0.21,0.82) (0.35,0.9) (0.45,0.75) (0.57,1.03) (0.75,1.15) (0.9,1.3) (1.04,1.44) (1.2,1.95) (1.35,2.45) (1.52,2.83) (1.7,3.05) (1.95,3.3) (2.23,3.67) (2.45,4.0) (2.7,4.45) (2.94,4.92) (3.15,5.3) (3.35,5.65) (3.55,6.05) (3.77,6.45) (3.9,6.75) (3.97,5.7) (4.04,6.9) (4.12,6.2) (4.2,7.2) (4.25,7.7) (4.32,6.6) (4.4,7.3) (4.47,5.9) (4.55,6.8) (4.62,6.4) (4.7,7.3) (4.78,6.6) (4.86,7.4) (4.94,6.8) (5.02,7.5) (5.1,7.0) (5.18,7.7) (5.26,7.2) (5.34,7.8) (5.42,7.3) (5.5,8.0) (5.6,7.5) (5.7,8.1) (5.8,7.6) (5.9,8.2) (6.0,7.8) (6.1,8.3) (6.2,7.9) (6.3,8.4) (6.4,8.0) (6.5,8.4) (6.6,8.1) (6.7,8.5) (6.8,8.0) (6.9,8.3) (7.0,7.8) (7.1,8.1) (7.2,7.9) (7.3,8.0) (7.4,7.8) (7.51,7.97) (7.5,7.5) (7.45,7.0) (7.3,6.2) (7.15,5.55) (6.98,4.92) (6.7,4.1) (6.38,3.4) (6.02,2.83) (5.6,2.2) (5.2,1.65) (4.84,1.17) (4.4,0.7) (3.9,0.3) (3.42,0)};
\addplot[N] coordinates {(3.8,6.5) (3.92,6.8) (4.0,6.1) (4.08,7.0) (4.16,6.4) (4.24,7.1) (4.32,5.7) (4.4,6.9) (4.48,6.3) (4.56,7.3) (4.64,6.1) (4.72,7.0) (4.8,6.5) (4.88,7.5) (4.96,7.0) (5.04,7.6) (5.12,7.1) (5.2,7.8) (5.28,7.3) (5.36,7.7) (5.44,7.2) (5.52,7.9) (5.62,7.5) (5.72,8.1) (5.82,7.7) (5.92,8.3) (6.02,7.9) (6.12,8.5) (6.22,8.1) (6.32,8.6) (6.42,8.2) (6.52,8.7) (6.62,8.3) (6.72,8.8) (6.82,8.4) (6.92,8.9) (7.0,8.6) (7.08,9.0) (7.15,8.5) (7.2,8.0) (7.18,7.2) (7.05,6.4) (6.85,5.6) (6.6,4.9) (6.3,4.2) (5.95,3.55) (5.55,2.9) (5.1,2.25) (4.6,1.6) (4.1,0.95) (3.65,0.45) (3.25,0.12) (3.0,0)};
\addplot[S] coordinates {(0,0) (0.03,0.38) (0.1,0.68) (0.21,0.8) (0.35,0.92) (0.45,0.85) (0.57,1.05) (0.75,1.18) (0.9,1.32) (1.04,1.48) (1.2,2.0) (1.35,2.5) (1.52,2.8) (1.7,3.0) (1.95,3.28) (2.23,3.65) (2.45,3.98) (2.7,4.42) (2.94,4.9) (3.15,5.28) (3.35,5.62) (3.55,6.0) (3.77,6.42) (3.95,6.8) (4.02,6.0) (4.1,7.1) (4.18,6.5) (4.26,7.4) (4.34,6.8) (4.42,7.6) (4.5,6.9) (4.58,7.3) (4.66,6.4) (4.74,7.5) (4.82,7.0) (4.9,7.8) (4.98,7.2) (5.06,7.7) (5.14,7.1) (5.22,7.9) (5.3,7.4) (5.38,8.0) (5.46,7.5) (5.54,8.1) (5.64,7.7) (5.74,8.3) (5.84,7.9) (5.94,8.4) (6.04,8.0) (6.14,8.6) (6.24,8.2) (6.34,8.7) (6.44,8.3) (6.54,8.9) (6.64,8.5) (6.74,9.0) (6.84,8.7) (6.94,9.2) (7.04,8.8) (7.14,9.3) (7.21,9.36) (7.28,9.0) (7.3,8.4) (7.25,7.6) (7.1,6.8) (6.9,6.0) (6.7,5.3) (6.5,4.64) (6.2,3.95) (5.8,3.2) (5.31,2.55) (4.85,1.85) (4.4,1.25) (4.13,0.89) (3.7,0.45) (3.2,0.12) (2.7,0)};
\addplot[S] coordinates {(4.0,6.9) (4.08,6.3) (4.16,7.2) (4.24,6.7) (4.32,7.5) (4.4,7.0) (4.48,7.6) (4.56,6.6) (4.64,7.4) (4.72,6.9) (4.8,7.7) (4.88,7.2) (4.96,7.9) (5.04,7.4) (5.12,8.0) (5.2,7.5) (5.28,8.1) (5.36,7.6) (5.46,8.2) (5.56,7.7) (5.66,8.3) (5.76,7.9) (5.86,8.5) (5.96,8.1) (6.06,8.6) (6.16,8.2) (6.26,8.7) (6.36,8.4) (6.46,8.9) (6.56,8.5) (6.66,9.0) (6.76,8.7) (6.86,9.2) (6.96,8.8) (7.06,9.3) (7.16,9.0) (7.24,9.2) (7.3,8.6) (7.3,7.8) (7.18,7.0) (7.0,6.2) (6.78,5.45) (6.52,4.75) (6.2,4.05) (5.82,3.35) (5.4,2.7) (4.95,2.05) (4.5,1.45) (4.05,0.85) (3.6,0.38) (3.2,0.08) (2.95,0)};
\end{axis}

\begin{axis}[panel, botx, at={(554.5pt,28.5pt)}]
\addplot[N] coordinates {(0,0) (0.03,0.4) (0.1,0.5) (0.2,0.53) (0.3,0.7) (0.4,0.6) (0.55,0.85) (0.79,1.08) (0.95,1.25) (1.1,1.45) (1.27,1.78) (1.45,2.3) (1.63,2.75) (1.8,2.9) (2.0,3.05) (2.22,3.3) (2.45,3.65) (2.7,4.05) (2.93,4.42) (3.15,4.85) (3.4,5.4) (3.64,5.95) (3.85,6.5) (4.0,6.9) (4.12,7.33) (4.18,6.5) (4.25,7.0) (4.32,6.2) (4.4,7.2) (4.48,6.6) (4.56,7.4) (4.64,6.8) (4.72,7.2) (4.8,6.4) (4.88,7.3) (4.96,5.4) (5.02,7.0) (5.1,7.4) (5.18,6.9) (5.26,7.6) (5.34,7.1) (5.42,7.7) (5.5,7.2) (5.6,7.8) (5.7,7.3) (5.8,8.0) (5.9,7.5) (6.0,8.1) (6.1,7.7) (6.2,8.2) (6.3,7.8) (6.4,8.3) (6.5,7.9) (6.6,8.4) (6.7,8.0) (6.8,8.5) (6.9,8.1) (7.0,8.4) (7.1,8.0) (7.2,8.6) (7.3,8.2) (7.4,8.5) (7.46,8.1) (7.47,7.6) (7.44,7.33) (7.3,6.3) (7.08,5.25) (6.7,4.15) (6.25,3.17) (5.7,2.3) (5.06,1.5) (4.4,0.85) (3.7,0.35) (3.2,0.08) (2.81,0)};
\addplot[N] coordinates {(3.8,6.3) (3.95,6.8) (4.03,6.0) (4.1,7.1) (4.18,6.6) (4.26,7.3) (4.34,6.5) (4.42,7.1) (4.5,5.9) (4.58,7.0) (4.66,6.6) (4.74,7.5) (4.82,6.9) (4.9,7.4) (4.98,6.8) (5.06,7.6) (5.14,7.1) (5.22,7.8) (5.3,7.3) (5.38,7.9) (5.46,7.4) (5.56,8.0) (5.66,7.6) (5.76,8.1) (5.86,7.7) (5.96,8.2) (6.06,7.8) (6.16,8.3) (6.26,7.9) (6.36,8.4) (6.46,8.0) (6.56,8.5) (6.66,8.1) (6.76,8.6) (6.86,8.2) (6.96,8.7) (7.06,8.3) (7.16,8.5) (7.26,8.2) (7.36,8.6) (7.45,8.3) (7.52,7.9) (7.55,7.3) (7.45,6.5) (7.25,5.6) (6.95,4.65) (6.55,3.75) (6.05,2.85) (5.45,2.05) (4.8,1.3) (4.15,0.7) (3.5,0.25) (3.0,0)};
\addplot[S] coordinates {(0,0) (0.03,0.38) (0.1,0.48) (0.2,0.55) (0.3,0.72) (0.42,0.68) (0.55,0.88) (0.79,1.05) (0.95,1.22) (1.1,1.42) (1.27,1.75) (1.45,2.25) (1.63,2.7) (1.8,2.85) (2.0,3.0) (2.22,3.25) (2.45,3.6) (2.7,3.98) (2.93,4.35) (3.15,4.75) (3.4,5.25) (3.64,5.8) (3.85,6.3) (3.95,5.6) (4.02,6.6) (4.1,5.2) (4.18,6.8) (4.26,6.3) (4.34,7.1) (4.42,6.5) (4.5,7.3) (4.58,6.7) (4.66,7.0) (4.74,6.3) (4.82,7.4) (4.9,6.9) (4.98,7.6) (5.06,7.0) (5.14,7.5) (5.22,6.8) (5.3,7.8) (5.38,7.2) (5.46,7.9) (5.56,7.4) (5.66,8.2) (5.76,7.6) (5.86,8.4) (5.96,7.8) (6.06,8.6) (6.16,8.0) (6.26,8.8) (6.36,8.2) (6.46,9.0) (6.56,8.4) (6.66,9.1) (6.76,8.5) (6.86,9.2) (6.96,8.6) (7.06,9.3) (7.16,8.7) (7.26,9.2) (7.36,8.8) (7.5,9.42) (7.52,8.8) (7.45,8.0) (7.3,7.2) (7.1,6.35) (6.85,5.5) (6.5,4.6) (6.05,3.7) (5.5,2.8) (4.9,2.0) (4.3,1.25) (3.7,0.62) (3.2,0.2) (2.85,0)};
\addplot[S] coordinates {(4.2,6.9) (4.28,6.3) (4.36,7.2) (4.44,6.7) (4.52,7.4) (4.6,6.2) (4.68,7.1) (4.76,6.6) (4.84,7.5) (4.92,7.0) (5.0,7.7) (5.08,7.2) (5.16,7.9) (5.24,7.3) (5.32,8.0) (5.4,7.5) (5.5,8.1) (5.6,7.6) (5.7,8.3) (5.8,7.8) (5.9,8.4) (6.0,7.9) (6.1,8.5) (6.2,8.0) (6.3,8.6) (6.4,8.1) (6.5,8.7) (6.6,8.2) (6.7,8.8) (6.8,8.3) (6.9,8.9) (7.0,8.4) (7.1,8.8) (7.2,8.3) (7.3,8.7) (7.4,8.2) (7.55,8.5) (7.68,8.4) (7.73,8.3) (7.72,7.6) (7.62,6.8) (7.45,5.95) (7.2,5.1) (6.85,4.2) (6.4,3.3) (5.85,2.45) (5.25,1.65) (4.6,0.95) (4.0,0.42) (3.65,0.12) (3.4,0)};
\end{axis}
\end{tikzpicture}
\end{document}
